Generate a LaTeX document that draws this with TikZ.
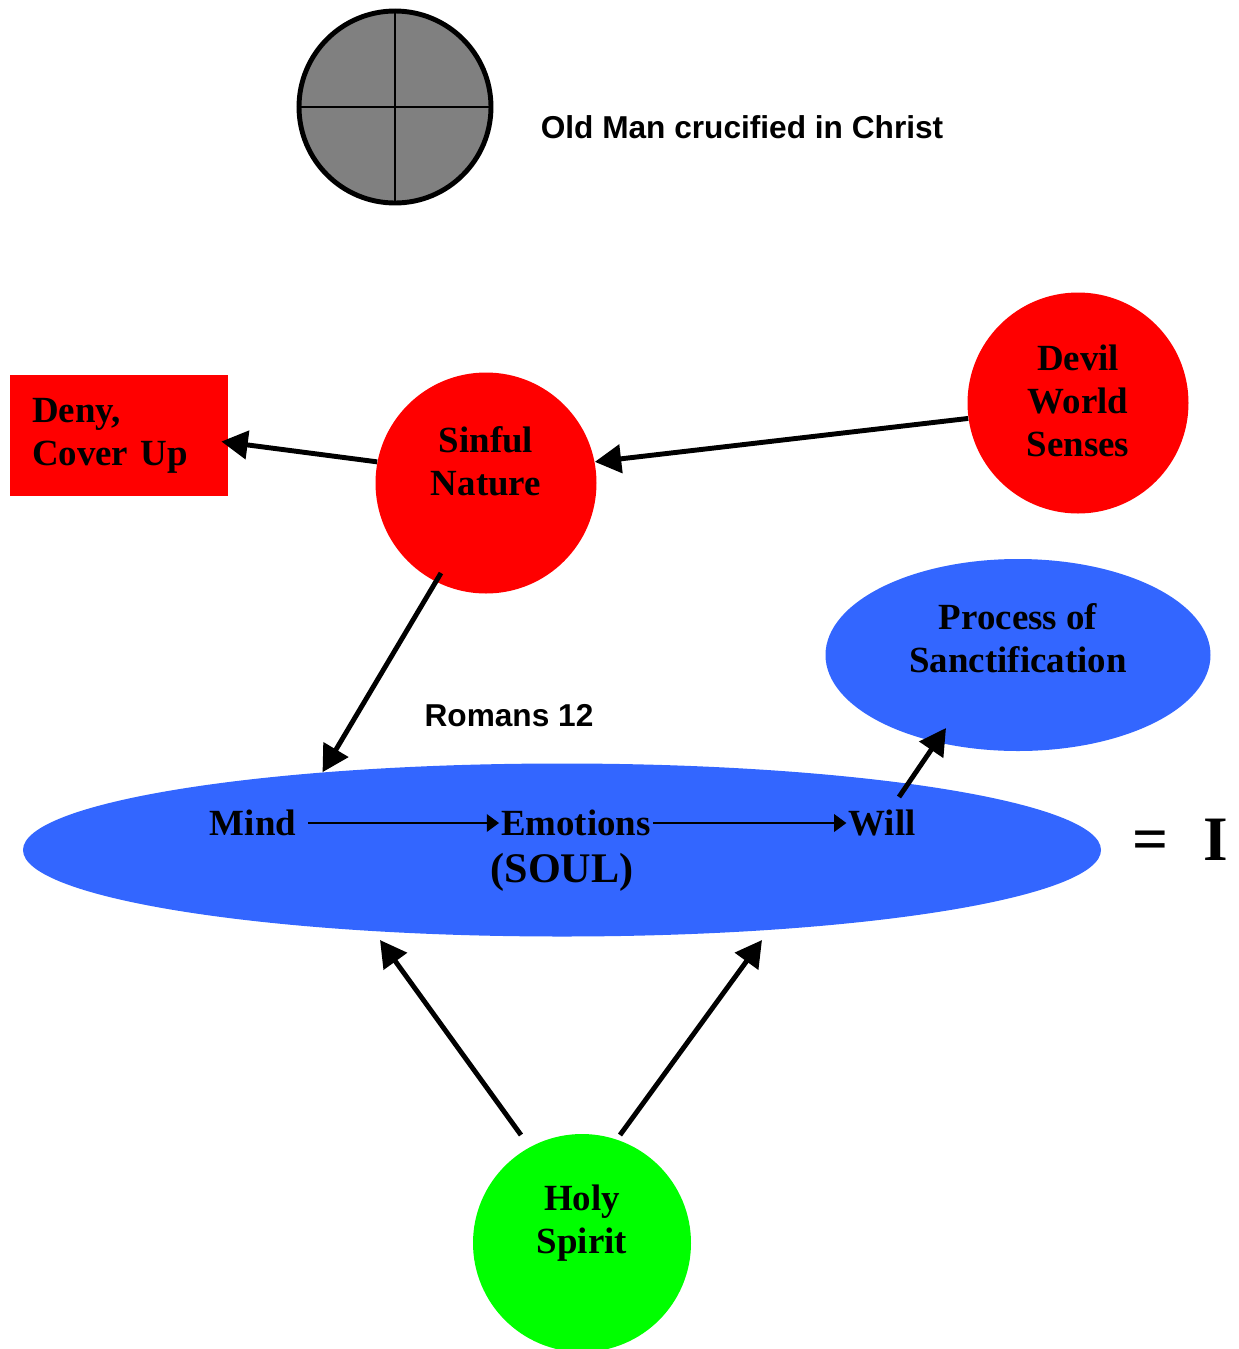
\documentclass[tikz,border=0pt]{standalone}
\usepackage{fontspec}
\setmainfont{Liberation Serif}
\newfontfamily\arialfont{Liberation Sans}
\usepackage{xcolor}
\usepackage{tikz}
\usetikzlibrary{arrows.meta, positioning, shapes.geometric, calc}

\definecolor{ballred}{RGB}{255,0,0}
\definecolor{soulblue}{RGB}{51,102,255}
\definecolor{spiritgreen}{RGB}{0,255,0}
\definecolor{oldgray}{RGB}{128,128,128}

\begin{document}
\begin{tikzpicture}[font=\fontsize{21}{24.5}\selectfont\bfseries,
  ball/.style={circle, minimum size=4.42cm, inner sep=0pt},
  txt/.style={align=center, inner sep=0pt},
  word/.style={inner xsep=1pt},
  sans/.style={font=\arialfont\fontsize{18}{22}\selectfont\bfseries},
  fat/.style={line width=2.8pt, -{Triangle[length=15pt,width=16pt]}},
  slim/.style={line width=1.1pt, -{Triangle[length=7pt,width=10pt]}}]
\useasboundingbox (0,0) rectangle (24.78,-26.98);

\node[draw, circle, fill=oldgray, line width=2.8pt, minimum size=3.84cm] (oldman) at (7.90,-2.14) {};
\draw[line width=1.1pt] (oldman.north) -- (oldman.south);
\draw[line width=1.1pt] (oldman.west) -- (oldman.east);
\node[sans] (oldtext) at (14.84,-2.54) {Old Man crucified in Christ};

\node[fill=ballred, minimum width=4.36cm, minimum height=2.42cm, text width=3.48cm,
  inner xsep=0.44cm, align=left] (deny) at (2.38,-8.71) {Deny,\\Cover Up};

\node[ball, fill=ballred] (sinful) at (9.72,-9.66) {};
\node[txt] (sinfultxt) at (9.72,-9.22) {Sinful\\Nature};

\node[ball, fill=ballred] (devil) at (21.56,-8.06) {};
\node[txt] (deviltxt) at (21.56,-8.02) {Devil\\World\\Senses};

\node[ellipse, fill=soulblue, minimum width=7.70cm, minimum height=3.84cm] (process) at (20.36,-13.10) {};
\node[txt] (processtxt) at (20.36,-12.77) {Process of\\Sanctification};

\node[sans] (romans) at (10.18,-14.32) {Romans 12};

\node[ellipse, fill=soulblue, minimum width=21.56cm, minimum height=3.46cm] (soul) at (11.24,-17.00) {};
\node[word] (mind) at (5.06,-16.46) {Mind};
\node[word] (emotions) at (11.52,-16.46) {Emotions};
\node[word] (will) at (17.64,-16.46) {Will};
\node[font=\fontsize{24}{28}\selectfont\bfseries] (soultxt) at (11.24,-17.44) {(SOUL)};
\node[font=\fontsize{36}{40}\selectfont\bfseries] (equals) at (23.60,-16.80) {=\hspace{20pt}I};

\node[ball, fill=spiritgreen, minimum size=4.36cm] (holy) at (11.64,-24.86) {};
\node[txt] (holytxt) at (11.64,-24.46) {Holy\\Spirit};

% arrows
\draw[fat] (sinful.169) -- ($(deny.east)+(-0.14,-0.12)$);
\draw[fat] (devil.188) -- (sinful.11);
\draw[fat] ($(sinful.center)+(-0.90,-1.80)$) -- (soul.162);
\draw[fat] ($(will.center)+(0.34,0.52)$) -- ($(process.center)+(-1.44,-1.46)$);
\draw[fat] ($(holy.center)+(-1.22,2.16)$) -- ($(soul.center)+(-3.64,-1.80)$);
\draw[fat] ($(holy.center)+(0.76,2.16)$) -- ($(soul.center)+(4.00,-1.80)$);

\draw[slim, shorten <=0.2cm] (mind.east) -- (emotions.west);
\draw[slim] (emotions.east) -- (will.west);
\end{tikzpicture}
\end{document}
